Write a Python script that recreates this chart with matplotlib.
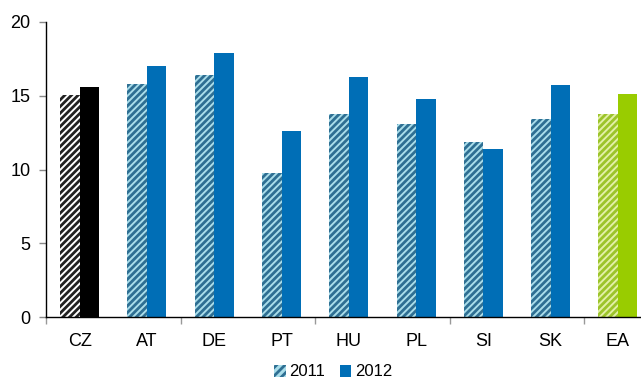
import numpy as np
import matplotlib
matplotlib.use("Agg")
import matplotlib.pyplot as plt
from matplotlib.patches import Patch

plt.rcParams['font.family'] = ['Liberation Sans', 'DejaVu Sans']
plt.rcParams['hatch.linewidth'] = 2.0

# Data
countries = ['CZ', 'AT', 'DE', 'PT', 'HU', 'PL', 'SI', 'SK', 'EA']
v2011 = [15.05, 15.8, 16.4, 9.8, 13.8, 13.1, 11.9, 13.4, 13.8]
v2012 = [15.6, 17.0, 17.9, 12.6, 16.3, 14.8, 11.4, 15.7, 15.1]

blue = '#006EB6'
light_blue = '#A9DDEA'
dark_stripe = '#2E6F93'

# per-category colours: CZ black, EA green, others blue
solid = ['black'] + [blue] * 7 + ['#99CC00']
hatch_face = ['white'] + [light_blue] * 7 + ['#E3F0A6']
hatch_line = ['#222222'] + [dark_stripe] * 7 + ['#9CC42A']

fig = plt.figure(figsize=(6.41, 3.80), dpi=100)
ax = fig.add_axes([46 / 641, 62.7 / 380, 605.6 / 641, 295.3 / 380])

x = np.arange(len(countries))
w = 0.29
for i in range(len(countries)):
    ax.bar(x[i] - w / 2, v2011[i], w, color=hatch_face[i], edgecolor=hatch_line[i],
           hatch='/////', linewidth=0)
    ax.bar(x[i] + w / 2, v2012[i], w, color=solid[i], linewidth=0)

ax.set_xlim(-0.5, 8.5)
ax.set_ylim(0, 20)
ax.set_yticks([0, 5, 10, 15, 20])
ax.tick_params(axis='y', labelsize=13, length=5, width=1, pad=6, color='#888888')

# category labels on minor ticks, grouping marks on major ticks
ax.set_xticks([-0.5, 1.5, 3.5, 5.5, 7.5])
ax.set_xticklabels([])
ax.set_xticks(x, minor=True)
ax.set_xticklabels(countries, minor=True)
ax.tick_params(axis='x', which='major', length=5, color='#999999', width=1)
ax.tick_params(axis='x', which='minor', length=0, labelsize=13, pad=11)

for s in ['top', 'right']:
    ax.spines[s].set_visible(False)
ax.spines['left'].set_linewidth(1)
ax.spines['bottom'].set_linewidth(1)

handles = [Patch(facecolor=light_blue, edgecolor=dark_stripe, hatch='////', linewidth=0),
           Patch(facecolor=blue, linewidth=0)]
fig.legend(handles, ['2011', '2012'], loc='center', bbox_to_anchor=(333 / 641, 1 - 372 / 380),
           ncol=2, frameon=False, fontsize=12, handlelength=0.7, handleheight=0.7,
           handletextpad=0.2, columnspacing=0.9, borderpad=0.1)

fig.savefig('out.png', dpi=100)
